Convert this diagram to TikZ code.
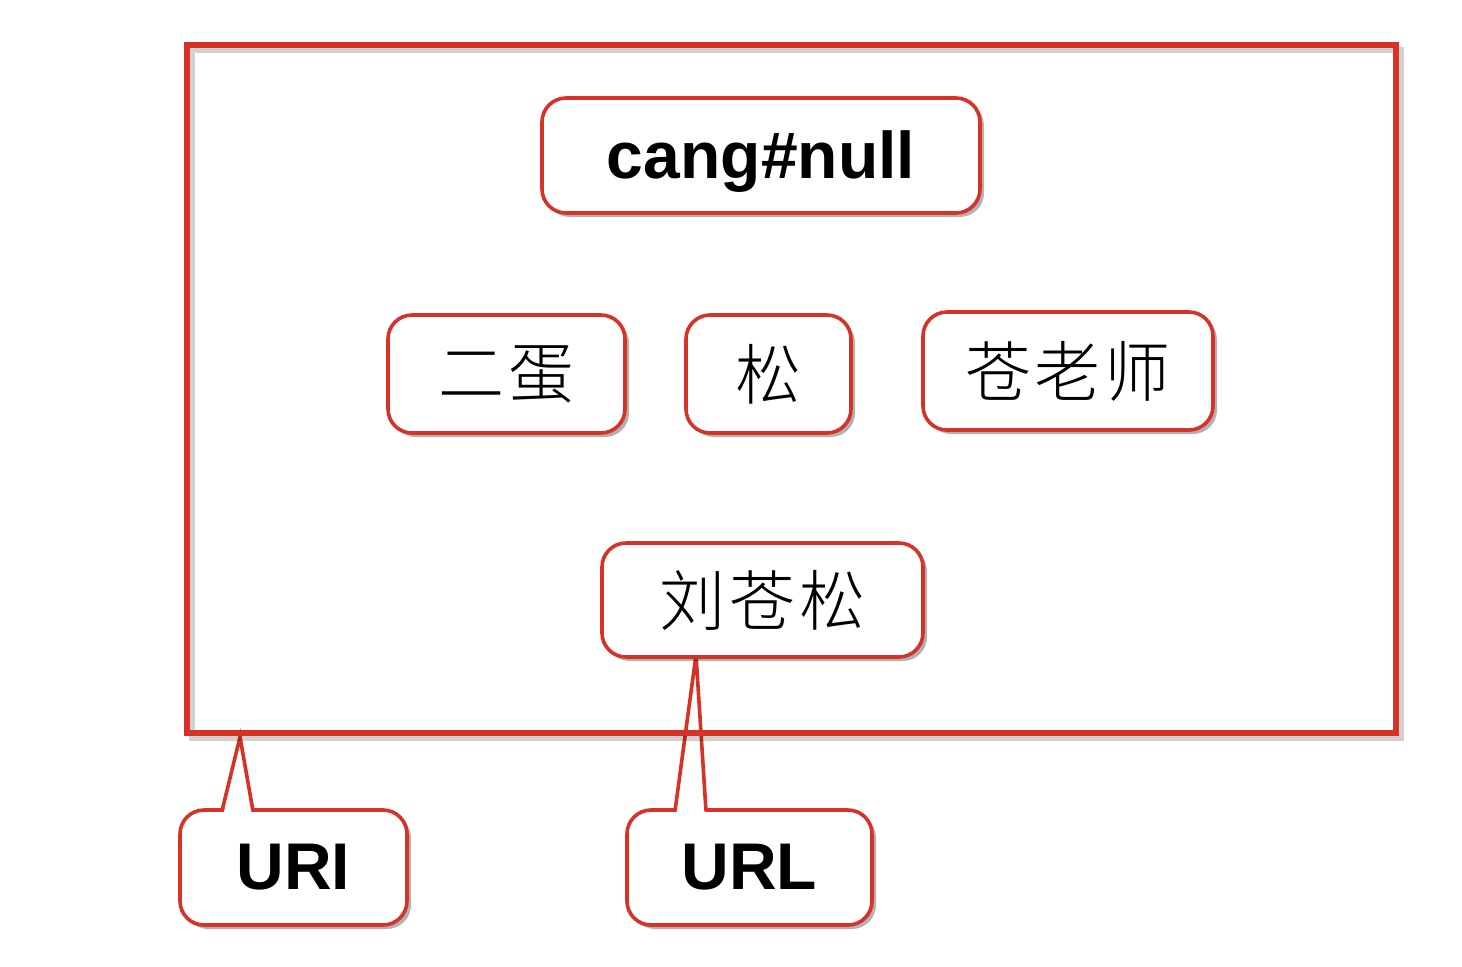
\documentclass[tikz,border=0pt]{standalone}
\usepackage{fontspec}
\setmainfont{Liberation Sans}
\newfontfamily\cjk[UprightFont={* Light}]{Noto Sans CJK SC}
\usetikzlibrary{shadows,calc}
\definecolor{boxred}{RGB}{214,50,40}
\tikzset{
  rbox/.style={draw=boxred, line width=1.8pt, fill=white, rounded corners=12pt,
    inner sep=0pt, text=black,
    drop shadow={shadow xshift=2pt, shadow yshift=-2pt, opacity=0.3, fill=black}},
  lat/.style={font=\fontsize{33}{33}\selectfont\bfseries, text depth=0pt},
  han/.style={font=\cjk\fontsize{33}{33}\selectfont},
  pside/.style={draw=boxred, line width=1.8pt, line join=miter},
  pfill/.style={fill=white},
  frame/.style={draw=boxred, line width=2.8pt},
  frameshadow/.style={draw=black, opacity=0.18, line width=2.8pt}
}
\begin{document}
\begin{tikzpicture}[x=0.5pt,y=-0.5pt]
\useasboundingbox (0,0) rectangle (1462,966);
\fill[white] (0,0) rectangle (1462,966);

% callout bodies
\node[rbox, lat, text height=22pt, minimum width=113.5pt, minimum height=57.5pt] (uri) at (293.5,867.5) {URI};
\node[rbox, lat, text height=22pt, minimum width=122.5pt, minimum height=57.5pt] (url) at (749.5,867.5) {URL};

% callout pointers
\coordinate (uritip) at (240,737);
\coordinate (urla) at (222,811);
\coordinate (urlb) at (253,811);
\coordinate (urltip) at (696,655);
\coordinate (urlc) at (675,811);
\coordinate (urld) at (706,811);
\fill[pfill] ($(urla)+(1,5)$) -- (uritip) -- ($(urlb)+(-1,5)$) -- cycle;
\draw[pside] (urla) -- (uritip) -- (urlb);
\fill[pfill] ($(urlc)+(1,5)$) -- (urltip) -- ($(urld)+(-1,5)$) -- cycle;
\draw[pside] (urlc) -- (urltip) -- (urld);

% outer frame
\coordinate (fa) at (187,45);
\coordinate (fb) at (1396,733);
\draw[frameshadow] ($(fa)+(5,5)$) rectangle ($(fb)+(5,5)$);
\draw[frame] (fa) rectangle (fb);

% inner boxes
\node[rbox, lat, text height=23pt, minimum width=219pt, minimum height=57.5pt] (cang) at (761,155.5) {cang\#null};
\node[rbox, han, minimum width=118.5pt, minimum height=59pt] (erdan) at (506.5,374) {二\hspace{2pt}蛋};
\node[rbox, han, minimum width=82.5pt, minimum height=59pt] (song) at (768.5,374) {松};
\node[rbox, han, minimum width=145pt, minimum height=59pt] (cang2) at (1068,371) {苍\hspace{2pt}老\hspace{2pt}师};
\node[rbox, han, minimum width=160.5pt, minimum height=57pt] (liu) at (762.5,600) {刘\hspace{2pt}苍\hspace{2pt}松};
\end{tikzpicture}
\end{document}
